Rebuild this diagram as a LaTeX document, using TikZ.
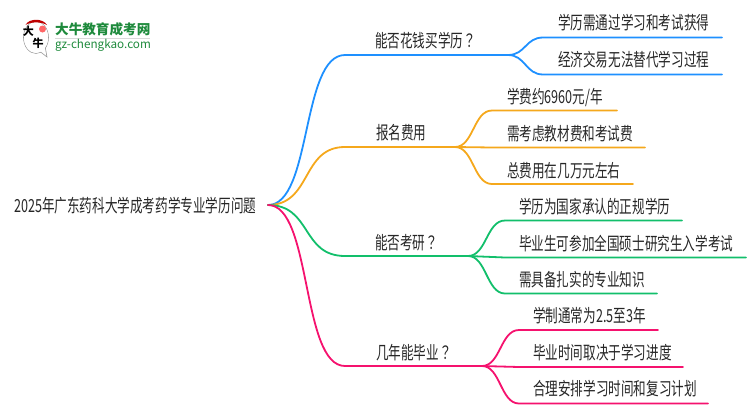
\documentclass[tikz,border=0pt]{standalone}
\usepackage{fontspec}
\setmainfont{Noto Sans CJK SC}
\newfontfamily\tcfont{Noto Sans CJK TC}
\usetikzlibrary{calc}
\definecolor{cblue}{HTML}{1E90FF}
\definecolor{corange}{HTML}{F5A81C}
\definecolor{cgreen}{HTML}{12BF6B}
\definecolor{cpink}{HTML}{F5126E}
\definecolor{cogreen}{HTML}{1E8A3C}
\definecolor{ctext}{HTML}{262626}
\newcommand{\qm}{{\tcfont ？}}
\tikzset{
  lbl/.style={anchor=west,inner sep=0pt,text=ctext,font=\fontsize{18}{20}\selectfont,xscale=.7,transform shape},
  logotxt/.style={anchor=west,inner sep=0pt,text=cogreen},
  seal/.style={inner sep=0pt,text=black,font=\fontsize{11}{11}\bfseries\selectfont},
  br/.style={line width=1.8pt,line cap=round},
}
\begin{document}
\begin{tikzpicture}[x=1pt,y=-1pt]
\useasboundingbox (0,0) rectangle (750,410);
% coordinates
\coordinate (r) at (268,205);
\coordinate (a1) at (345,55);   \coordinate (a2) at (508,55);
\coordinate (b1) at (345,147);  \coordinate (b2) at (455,147);
\coordinate (c1) at (345,256);  \coordinate (c2) at (468,256);
\coordinate (d1) at (345,366);  \coordinate (d2) at (482,366);
\coordinate (a3) at (543,37.5); \coordinate (a4) at (722,37.5);
\coordinate (a5) at (543,74.5); \coordinate (a6) at (722,74.5);
\coordinate (b3) at (492,110.5);\coordinate (b4) at (617,110.5);
\coordinate (b5) at (492,147.5);\coordinate (b6) at (645,147.5);
\coordinate (b7) at (492,184);  \coordinate (b8) at (633,184);
\coordinate (c3) at (505,220.5);\coordinate (c4) at (682,220.5);
\coordinate (c5) at (505,257.5);\coordinate (c6) at (746,257.5);
\coordinate (c7) at (505,293.5);\coordinate (c8) at (657,293.5);
\coordinate (d3) at (519,330);  \coordinate (d4) at (658,330);
\coordinate (d5) at (519,367);  \coordinate (d6) at (683,367);
\coordinate (d7) at (519,403.5);\coordinate (d8) at (708,403.5);
% main branches
\draw[br,cblue] (r) .. controls (312,205) and (301,55) .. (a1) -- (a2);
\draw[br,corange] (r) .. controls (312,205) and (301,147) .. (b1) -- (b2);
\draw[br,cgreen] (r) .. controls (312,205) and (301,256) .. (c1) -- (c2);
\draw[br,cpink] (r) .. controls (312,205) and (301,366) .. (d1) -- (d2);
% sub-branches
\foreach \s/\e/\m/\c in {a2/a3/a4/cblue,a2/a5/a6/cblue,b2/b3/b4/corange,b2/b5/b6/corange,b2/b7/b8/corange,c2/c3/c4/cgreen,c2/c5/c6/cgreen,c2/c7/c8/cgreen,d2/d3/d4/cpink,d2/d5/d6/cpink,d2/d7/d8/cpink}{
  \draw[br,\c] (\s) .. controls ($(\s)!.5!(\e|-\s)$) and ($(\e)!.5!(\s|-\e)$) .. (\e) -- (\m);
}
% texts
\node[lbl] (root) at (14,206) {2025年广东药科大学成考药学专业学历问题};
\node[lbl] (ta) at (375,41) {能否花钱买学历\qm};
\node[lbl] (tb) at (376,133) {报名费用};
\node[lbl] (tc) at (375,243) {能否考研\qm};
\node[lbl] (td) at (376,353) {几年能毕业\qm};
\node[lbl] (a7) at (558,23) {学历需通过学习和考试获得};
\node[lbl] (a8) at (558,60) {经济交易无法替代学习过程};
\node[lbl] (b9) at (507,97) {学费约6960元/年};
\node[lbl] (b10) at (507,134) {需考虑教材费和考试费};
\node[lbl] (b11) at (507,171) {总费用在几万元左右};
\node[lbl] (c9) at (519,207) {学历为国家承认的正规学历};
\node[lbl] (c10) at (519,244) {毕业生可参加全国硕士研究生入学考试};
\node[lbl] (c11) at (519,280) {需具备扎实的专业知识};
\node[lbl] (d9) at (533,316) {学制通常为2.5至3年};
\node[lbl] (d10) at (533,353) {毕业时间取决于学习进度};
\node[lbl] (d11) at (533,389) {合理安排学习时间和复习计划};
% logo
\draw[fill=white,draw=black!40,line width=.6pt] (36,37.5) ellipse (12.5 and 16);
\draw[fill=white,draw=black!40,line width=.6pt] (38,50) -- (47,57) -- (45,46);
\fill[white] (36,37.5) ellipse (12 and 15.5);
\fill[red!75!black] (25.5,25) .. controls (29,18) and (43,18) .. (47,25) .. controls (41,21.5) and (31,21.5) .. (25.5,25) -- cycle;
\fill[red!60!white] (42.5,29) circle (3.5);
\node[seal] (l1) at (28.5,31.5) {大};
\node[seal] (l2) at (38,43.5) {牛};
\node[logotxt,font=\fontsize{13.6}{14}\bfseries\selectfont] (l3) at (55,29.5) {大牛教育成考网};
\draw[black!15,line width=.6pt] (55,38.5) -- (150,38.5);
\node[logotxt,font=\fontsize{11.7}{13}\selectfont] (l4) at (55,45) {gz-chengkao.com};
\end{tikzpicture}
\end{document}
